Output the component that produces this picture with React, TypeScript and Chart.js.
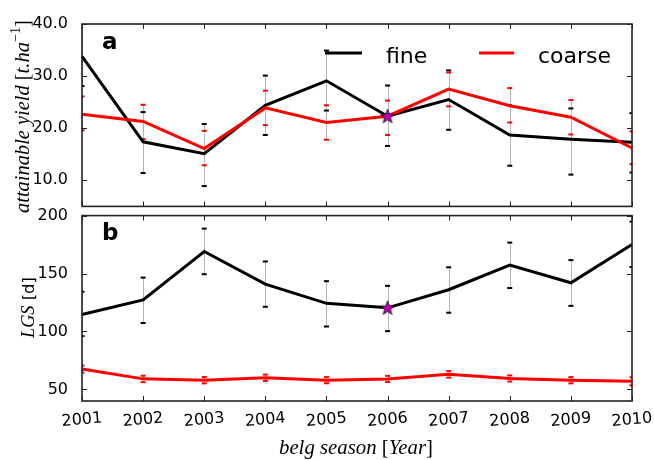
import React, { useEffect, useRef } from 'react';
import { Chart, registerables } from 'chart.js';

Chart.register(...registerables);

// ---------- data ----------
const years = ['2001', '2002', '2003', '2004', '2005', '2006', '2007', '2008', '2009', '2010'];

// panel a: attainable yield [t/ha]
const fineYield = [33.8, 17.4, 15.1, 24.4, 29.1, 22.3, 25.5, 18.7, 17.9, 17.3];
const fineYieldLow = [28.1, 11.4, 8.9, 18.7, 23.4, 16.6, 19.7, 12.8, 11.1, 11.5];
const fineYieldHigh = [40.5, 23.1, 20.8, 30.1, 34.9, 28.2, 31.1, 24.4, 23.8, 22.9];
const coarseYield = [22.7, 21.3, 16.1, 23.9, 21.1, 22.3, 27.5, 24.3, 22.1, 16.2];
const coarseYieldLow = [19.6, 17.9, 12.9, 20.6, 17.8, 18.7, 24.2, 21.1, 18.8, 13.1];
const coarseYieldHigh = [26.1, 24.5, 19.5, 27.2, 24.4, 25.3, 30.7, 27.7, 25.4, 19.4];

// panel b: LGS [d]
const fineLgs = [114.7, 127.2, 169.0, 140.9, 124.3, 120.4, 136.0, 157.3, 142.0, 175.0];
const fineLgsLow = [96.0, 107.3, 149.4, 121.3, 104.3, 100.3, 116.2, 137.5, 122.1, 155.6];
const fineLgsHigh = [134.3, 146.5, 188.8, 160.4, 143.4, 139.4, 155.4, 176.7, 161.6, 194.8];
const coarseLgs = [67.6, 59.1, 57.9, 60.0, 57.9, 59.0, 63.0, 59.4, 57.9, 57.0];
const coarseLgsLow = [64.5, 56.3, 55.2, 57.3, 55.3, 56.4, 60.2, 56.8, 55.2, 53.5];
const coarseLgsHigh = [70.6, 61.8, 60.7, 62.8, 60.6, 61.7, 65.8, 62.1, 60.6, 60.5];

const yieldTicks = [10, 20, 30, 40];
const lgsTicks = [50, 100, 150, 200];
const starIndex = 5; // 2006

const seriesLabels = ['fine', 'coarse'];

// ---------- styling ----------
const SANS = "'DejaVu Sans', sans-serif";
const SERIF = "'Liberation Serif', 'DejaVu Serif', serif";
const FRAME = '#222';
const FINE_COLOR = '#000000';
const COARSE_COLOR = '#ff0000';

type Piece = { text: string; italic?: boolean; sans?: boolean; rel?: number; rise?: number };

function drawPieces(
  ctx: CanvasRenderingContext2D,
  pieces: Piece[],
  target: number,
  x: number,
  y: number,
  vertical: boolean
) {
  const base = 20;
  const fontFor = (p: Piece, size: number) =>
    `${p.italic ? 'italic ' : ''}${(p.rel ?? 1) * size}px ${p.sans ? SANS : SERIF}`;
  let total = 0;
  for (const p of pieces) {
    ctx.font = fontFor(p, base);
    total += ctx.measureText(p.text).width;
  }
  const size = (base * target) / total;
  ctx.save();
  ctx.translate(x, y);
  if (vertical) ctx.rotate(-Math.PI / 2);
  ctx.textAlign = 'left';
  ctx.textBaseline = 'alphabetic';
  ctx.fillStyle = '#000';
  let cx = -target / 2;
  for (const p of pieces) {
    ctx.font = fontFor(p, size);
    ctx.fillText(p.text, cx, -(p.rise ?? 0) * size);
    cx += ctx.measureText(p.text).width;
  }
  ctx.restore();
}

function makeStar(): HTMLCanvasElement {
  const c = document.createElement('canvas');
  c.width = 18;
  c.height = 18;
  const g = c.getContext('2d')!;
  const R = 7.5;
  const r = 3.0;
  g.beginPath();
  for (let k = 0; k < 10; k++) {
    const ang = -Math.PI / 2 + (k * Math.PI) / 5;
    const rad = k % 2 === 0 ? R : r;
    const px = 9 + rad * Math.cos(ang);
    const py = 9.5 + rad * Math.sin(ang);
    if (k === 0) g.moveTo(px, py);
    else g.lineTo(px, py);
  }
  g.closePath();
  g.fillStyle = '#bf00bf';
  g.fill();
  g.lineWidth = 0.8;
  g.strokeStyle = '#000';
  g.stroke();
  return c;
}

type PanelSpec = {
  fine: number[];
  coarse: number[];
  fineLow: number[];
  fineHigh: number[];
  coarseLow: number[];
  coarseHigh: number[];
  min: number;
  max: number;
  ticks: number[];
  fmt: (v: number) => string;
  padding: { top: number; bottom: number; left: number; right: number };
  decorate: (chart: any) => void;
};

function buildChart(canvas: HTMLCanvasElement, p: PanelSpec, star: HTMLCanvasElement) {
  const errorPlugin = {
    id: 'errorbars',
    beforeDatasetsDraw(chart: any) {
      const { ctx, chartArea: a } = chart;
      const xs = chart.scales.x;
      const ys = chart.scales.y;
      ctx.save();
      ctx.beginPath();
      ctx.rect(a.left, a.top, a.right - a.left, a.bottom - a.top);
      ctx.clip();
      const groups = [
        { low: p.fineLow, high: p.fineHigh, color: FINE_COLOR },
        { low: p.coarseLow, high: p.coarseHigh, color: COARSE_COLOR },
      ];
      ctx.strokeStyle = '#b4b4b4';
      ctx.lineWidth = 1;
      for (const g of groups) {
        for (let i = 0; i < years.length; i++) {
          const x = Math.round(xs.getPixelForValue(i)) + 0.5;
          ctx.beginPath();
          ctx.moveTo(x, ys.getPixelForValue(g.low[i]));
          ctx.lineTo(x, ys.getPixelForValue(g.high[i]));
          ctx.stroke();
        }
      }
      for (const g of groups) {
        ctx.fillStyle = g.color;
        for (let i = 0; i < years.length; i++) {
          const x = xs.getPixelForValue(i);
          for (const v of [g.low[i], g.high[i]]) {
            const y = ys.getPixelForValue(v);
            ctx.fillRect(x - 2.5, y - 1, 5, 2);
          }
        }
      }
      ctx.restore();
    },
  };

  const framePlugin = {
    id: 'frame',
    afterDraw(chart: any) {
      const { ctx, chartArea: a } = chart;
      const xs = chart.scales.x;
      const ys = chart.scales.y;
      ctx.save();
      ctx.strokeStyle = FRAME;
      ctx.lineWidth = 1;
      const L = 5;
      for (let i = 0; i < years.length; i++) {
        const x = Math.round(xs.getPixelForValue(i)) + 0.5;
        ctx.beginPath();
        ctx.moveTo(x, a.bottom);
        ctx.lineTo(x, a.bottom - L);
        ctx.moveTo(x, a.top);
        ctx.lineTo(x, a.top + L);
        ctx.stroke();
      }
      for (const v of p.ticks) {
        const y = Math.round(ys.getPixelForValue(v)) + 0.5;
        ctx.beginPath();
        ctx.moveTo(a.left, y);
        ctx.lineTo(a.left + L, y);
        ctx.moveTo(a.right, y);
        ctx.lineTo(a.right - L, y);
        ctx.stroke();
      }
      ctx.lineWidth = 1.6;
      ctx.strokeRect(a.left, a.top, a.right - a.left, a.bottom - a.top);
      ctx.restore();
      p.decorate(chart);
    },
  };

  return new Chart(canvas, {
    type: 'line',
    data: {
      labels: years,
      datasets: [
        {
          label: 'star',
          data: years.map((_, i) => (i === starIndex ? p.fine[i] : null)),
          showLine: false,
          pointStyle: star as any,
          pointRadius: 7,
          borderColor: '#000',
          backgroundColor: '#bf00bf',
        },
        {
          label: seriesLabels[1],
          data: p.coarse,
          borderColor: COARSE_COLOR,
          backgroundColor: COARSE_COLOR,
          borderWidth: 3,
          pointRadius: 0,
          tension: 0,
        },
        {
          label: seriesLabels[0],
          data: p.fine,
          borderColor: FINE_COLOR,
          backgroundColor: FINE_COLOR,
          borderWidth: 3,
          pointRadius: 0,
          tension: 0,
        },
      ],
    },
    options: {
      responsive: false,
      maintainAspectRatio: false,
      animation: false,
      devicePixelRatio: 1,
      layout: { padding: p.padding },
      plugins: {
        legend: { display: false },
        tooltip: { enabled: false },
        title: { display: false },
      },
      scales: {
        x: {
          type: 'category',
          offset: false,
          display: false,
          grid: { display: false },
        },
        y: {
          type: 'linear',
          min: p.min,
          max: p.max,
          grid: { display: false },
          border: { display: false },
          afterBuildTicks: (s: any) => {
            s.ticks = p.ticks.map((v) => ({ value: v }));
          },
          afterFit: (s: any) => {
            s.width = 82;
          },
          ticks: {
            padding: 6,
            color: '#000',
            font: { family: SANS, size: 16 },
            callback: (v: any) => p.fmt(Number(v)),
          },
        },
      },
    } as any,
    plugins: [errorPlugin, framePlugin],
  });
}

export default function App() {
  const topRef = useRef<HTMLCanvasElement>(null);
  const botRef = useRef<HTMLCanvasElement>(null);

  useEffect(() => {
    const star = makeStar();

    const top = buildChart(
      topRef.current!,
      {
        fine: fineYield,
        coarse: coarseYield,
        fineLow: fineYieldLow,
        fineHigh: fineYieldHigh,
        coarseLow: coarseYieldLow,
        coarseHigh: coarseYieldHigh,
        min: 5,
        max: 40,
        ticks: yieldTicks,
        fmt: (v) => v.toFixed(1),
        padding: { top: 24, bottom: 13, left: 0, right: 22 },
        decorate: (chart) => {
          const ctx: CanvasRenderingContext2D = chart.ctx;
          ctx.save();
          // panel letter
          ctx.fillStyle = '#000';
          ctx.font = `bold 23px ${SANS}`;
          ctx.textAlign = 'left';
          ctx.textBaseline = 'alphabetic';
          ctx.fillText('a', 102, 49);
          // legend
          const items = [
            { label: seriesLabels[0], color: FINE_COLOR, x0: 325, x1: 362, tx: 386 },
            { label: seriesLabels[1], color: COARSE_COLOR, x0: 479, x1: 514, tx: 538 },
          ];
          for (const it of items) {
            ctx.strokeStyle = it.color;
            ctx.lineWidth = 3;
            ctx.beginPath();
            ctx.moveTo(it.x0, 53);
            ctx.lineTo(it.x1, 53);
            ctx.stroke();
            ctx.fillStyle = '#000';
            ctx.font = `22px ${SANS}`;
            ctx.fillText(it.label, it.tx, 62.5);
          }
          ctx.restore();
          // y title
          drawPieces(
            ctx,
            [
              { text: 'attainable yield ', italic: true },
              { text: '[' },
              { text: 't.ha', italic: true },
              { text: '\u22121', rel: 0.7, rise: 0.42 },
              { text: ']' },
            ],
            193,
            29,
            116.5,
            true
          );
        },
      },
      star
    );

    const bot = buildChart(
      botRef.current!,
      {
        fine: fineLgs,
        coarse: coarseLgs,
        fineLow: fineLgsLow,
        fineHigh: fineLgsHigh,
        coarseLow: coarseLgsLow,
        coarseHigh: coarseLgsHigh,
        min: 40,
        max: 200,
        ticks: lgsTicks,
        fmt: (v) => String(Math.round(v)),
        padding: { top: 15, bottom: 59, left: 0, right: 22 },
        decorate: (chart) => {
          const ctx: CanvasRenderingContext2D = chart.ctx;
          const xs = chart.scales.x;
          ctx.save();
          ctx.fillStyle = '#000';
          ctx.font = `bold 23px ${SANS}`;
          ctx.textAlign = 'left';
          ctx.textBaseline = 'alphabetic';
          ctx.fillText('b', 102, 40);
          // rotated year labels
          ctx.font = `16px ${SANS}`;
          ctx.textAlign = 'center';
          ctx.textBaseline = 'middle';
          for (let i = 0; i < years.length; i++) {
            const x = xs.getPixelForValue(i);
            ctx.save();
            ctx.translate(x, 220);
            ctx.rotate((-5 * Math.PI) / 180);
            ctx.fillText(years[i], 0, 0);
            ctx.restore();
          }
          ctx.restore();
          // y title
          drawPieces(
            ctx,
            [
              { text: 'LGS', italic: true },
              { text: ' [d]', sans: true, rel: 0.9 },
            ],
            61,
            34,
            107.5,
            true
          );
          // x title
          drawPieces(
            ctx,
            [
              { text: 'belg season ', italic: true },
              { text: '[' },
              { text: 'Year', italic: true },
              { text: ']' },
            ],
            154,
            356,
            254,
            false
          );
        },
      },
      star
    );

    return () => {
      top.destroy();
      bot.destroy();
    };
  }, []);

  return (
    <div
      style={{
        position: 'fixed',
        left: 0,
        top: 0,
        width: 654,
        height: 460,
        background: '#fff',
        overflow: 'hidden',
      }}
    >
      <canvas
        ref={topRef}
        width={654}
        height={222}
        style={{ position: 'absolute', left: 0, top: 0, width: 654, height: 222 }}
      />
      <canvas
        ref={botRef}
        width={654}
        height={260}
        style={{ position: 'absolute', left: 0, top: 200, width: 654, height: 260 }}
      />
    </div>
  );
}
